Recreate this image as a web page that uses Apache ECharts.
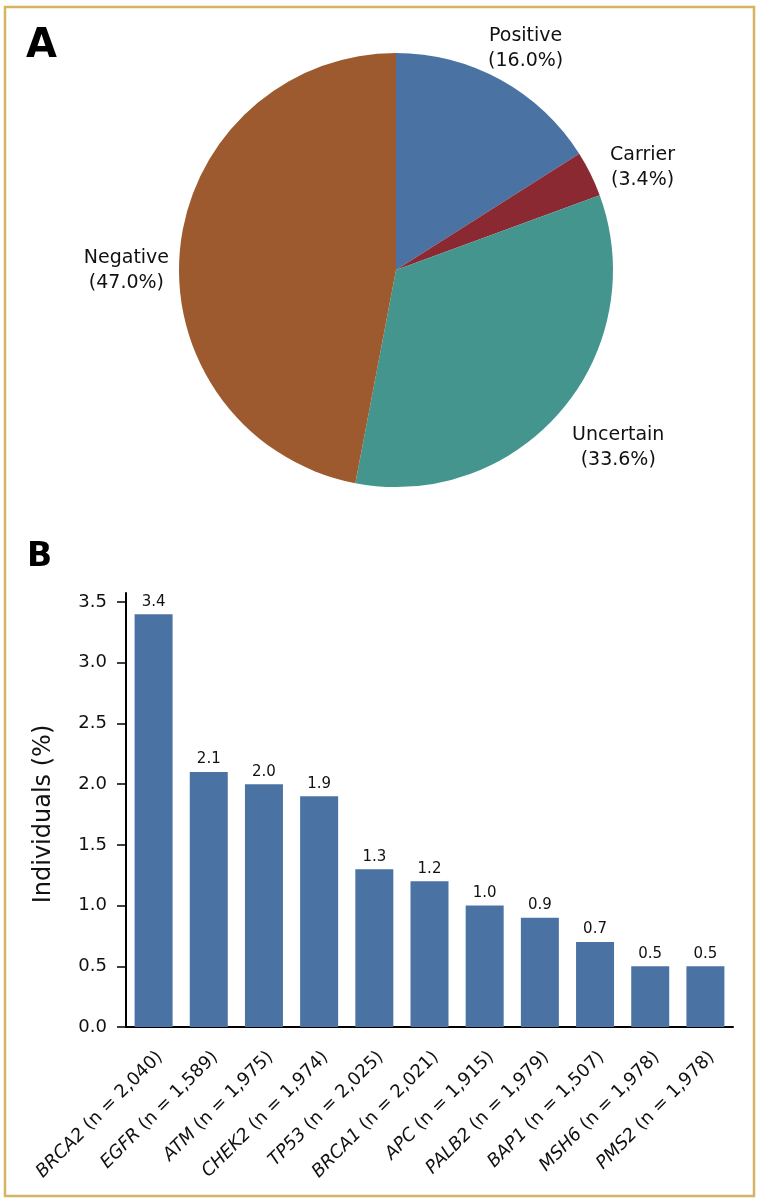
<!DOCTYPE html>
<html>
<head>
<meta charset="utf-8">
<script src="https://cdn.jsdelivr.net/npm/echarts@6/dist/echarts.min.js"></script>
<style>
html,body{margin:0;padding:0;background:#ffffff;}
#c{width:760px;height:1200px;}
</style>
</head>
<body>
<div id="c"></div>
<script>
// ---- data ----
const pieCategories = ['Positive', 'Carrier', 'Uncertain', 'Negative'];
const pieValues = [16.0, 3.4, 33.6, 47.0];
const pieColors = ['#4A73A3', '#8B2933', '#45958F', '#9C5A2E'];

const genes = ['BRCA2', 'EGFR', 'ATM', 'CHEK2', 'TP53', 'BRCA1', 'APC', 'PALB2', 'BAP1', 'MSH6', 'PMS2'];
const geneN = ['2,040', '1,589', '1,975', '1,974', '2,025', '2,021', '1,915', '1,979', '1,507', '1,978', '1,978'];
const barValues = [3.4, 2.1, 2.0, 1.9, 1.3, 1.2, 1.0, 0.9, 0.7, 0.5, 0.5];
const yTicks = [0, 0.5, 1.0, 1.5, 2.0, 2.5, 3.0, 3.5];

// ---- layout constants (not data) ----
const FONT = 'DejaVu Sans';
const PIE_CX = 396, PIE_CY = 270, PIE_R = 217;
// small hand nudges of the pie labels, to follow the original placement
const PIE_LABEL_NUDGE = [[1, 13], [7, 16], [10, -3], [1, 26]];

const barCategories = genes.map((g, i) => g + ' (n = ' + geneN[i] + ')');
const pieTotal = pieValues.reduce((a, b) => a + b, 0);

const chart = echarts.init(document.getElementById('c'), null, {renderer: 'canvas'});

const option = {
  animation: false,
  backgroundColor: '#ffffff',
  graphic: [
    {
      type: 'rect',
      shape: {x: 5, y: 7, width: 749, height: 1189},
      style: {fill: 'none', stroke: '#D7B462', lineWidth: 2.5},
      silent: true
    },
    {
      type: 'text',
      left: 26, top: 27,
      style: {text: 'A', font: 'bold 40px "DejaVu Sans"', fill: '#000000'}
    },
    {
      type: 'text',
      left: 27, top: 541,
      style: {text: 'B', font: 'bold 33px "DejaVu Sans"', fill: '#000000'}
    }
  ],
  grid: {left: 126, right: 27, top: 593, bottom: 173, containLabel: false},
  xAxis: {
    type: 'category',
    data: barCategories,
    axisLine: {show: true, lineStyle: {color: '#000000', width: 2}},
    axisTick: {show: false},
    axisLabel: {
      interval: 0,
      rotate: 45,
      margin: 21,
      verticalAlign: 'top',
      fontFamily: FONT,
      fontSize: 18,
      color: '#111111',
      formatter: function (v) {
        const k = v.indexOf(' ');
        return '{g|' + v.slice(0, k) + '}' + v.slice(k);
      },
      rich: {
        g: {fontStyle: 'italic', fontFamily: FONT, fontSize: 18, color: '#111111'}
      }
    }
  },
  yAxis: {
    type: 'value',
    min: 0,
    max: 3.575,
    interval: 0.5,
    splitLine: {show: false},
    axisLine: {show: true, lineStyle: {color: '#000000', width: 2}},
    axisTick: {show: true, length: 9, customValues: yTicks, lineStyle: {color: '#000000', width: 1.5}},
    axisLabel: {
      margin: 19,
      fontFamily: FONT,
      fontSize: 18,
      color: '#111111',
      customValues: yTicks,
      formatter: function (v) { return Number(v).toFixed(1); }
    },
    name: 'Individuals (%)',
    nameLocation: 'middle',
    nameGap: 70,
    nameTextStyle: {fontFamily: FONT, fontSize: 24, fontWeight: 'normal', color: '#111111', padding: [0, 0, 0, -8]}
  },
  series: [
    {
      type: 'pie',
      center: [PIE_CX, PIE_CY],
      radius: PIE_R,
      startAngle: 90,
      clockwise: true,
      avoidLabelOverlap: false,
      data: pieCategories.map((n, i) => ({name: n, value: pieValues[i], itemStyle: {color: pieColors[i]}})),
      itemStyle: {borderWidth: 0},
      label: {
        show: true,
        position: 'outside',
        fontFamily: FONT,
        fontSize: 19,
        lineHeight: 25,
        color: '#111111',
        formatter: function (p) { return p.name + '\n(' + p.value.toFixed(1) + '%)'; }
      },
      labelLine: {show: false},
      labelLayout: function (p) {
        const i = p.dataIndex;
        let before = 0;
        for (let j = 0; j < i; j++) before += pieValues[j];
        const mid = (before + pieValues[i] / 2) / pieTotal * 2 * Math.PI;
        const ux = Math.sin(mid), uy = -Math.cos(mid);
        const w = p.labelRect.width, h = p.labelRect.height;
        const d = PIE_R + 10 + Math.abs(ux) * w / 2 + Math.abs(uy) * h / 2;
        const nudge = PIE_LABEL_NUDGE[i];
        return {
          x: PIE_CX + ux * d + nudge[0],
          y: PIE_CY + uy * d + nudge[1],
          align: 'center',
          verticalAlign: 'middle'
        };
      },
      emphasis: {disabled: true}
    },
    {
      type: 'bar',
      data: barValues,
      barWidth: 38,
      itemStyle: {color: '#4A73A3'},
      label: {
        show: true,
        position: 'top',
        distance: 5,
        fontFamily: FONT,
        fontSize: 15,
        color: '#111111',
        formatter: function (p) { return p.value.toFixed(1); }
      },
      emphasis: {disabled: true}
    }
  ]
};

chart.setOption(option);
</script>
</body>
</html>
